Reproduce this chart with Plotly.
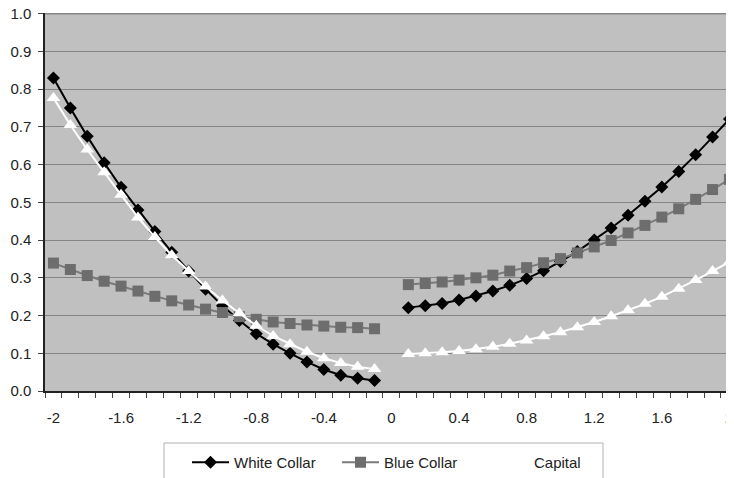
import plotly.graph_objects as go

categories = [-2.0, -1.9, -1.8, -1.7, -1.6, -1.5, -1.4, -1.3, -1.2, -1.1,
              -1.0, -0.9, -0.8, -0.7, -0.6, -0.5, -0.4, -0.3, -0.2, -0.1,
              0.0,
              0.1, 0.2, 0.3, 0.4, 0.5, 0.6, 0.7, 0.8, 0.9, 1.0,
              1.1, 1.2, 1.3, 1.4, 1.5, 1.6, 1.7, 1.8, 1.9, 2.0]

white_collar = [0.830, 0.750, 0.675, 0.605, 0.540, 0.480, 0.423, 0.368, 0.318, 0.270,
                0.226, 0.187, 0.152, 0.124, 0.100, 0.077, 0.057, 0.042, 0.034, 0.028,
                None,
                0.221, 0.226, 0.232, 0.241, 0.252, 0.265, 0.280, 0.298, 0.319, 0.343,
                0.370, 0.400, 0.432, 0.466, 0.503, 0.541, 0.582, 0.626, 0.673, 0.721]

blue_collar = [0.339, 0.322, 0.306, 0.291, 0.278, 0.265, 0.251, 0.239, 0.228, 0.217,
               0.208, 0.197, 0.190, 0.183, 0.179, 0.175, 0.172, 0.169, 0.168, 0.165,
               None,
               0.282, 0.285, 0.289, 0.294, 0.300, 0.307, 0.318, 0.327, 0.340, 0.351,
               0.366, 0.382, 0.399, 0.419, 0.439, 0.461, 0.483, 0.508, 0.534, 0.561]

capital = [0.777, 0.705, 0.640, 0.580, 0.520, 0.460, 0.408, 0.360, 0.318, 0.277,
           0.240, 0.206, 0.173, 0.146, 0.124, 0.104, 0.087, 0.074, 0.064, 0.058,
           None,
           0.098, 0.100, 0.103, 0.106, 0.111, 0.117, 0.125, 0.134, 0.145, 0.156,
           0.169, 0.183, 0.198, 0.214, 0.231, 0.250, 0.271, 0.294, 0.318, 0.342]

x_tick_values = [-2.0, -1.6, -1.2, -0.8, -0.4, 0.0, 0.4, 0.8, 1.2, 1.6, 2.0]
x_tick_labels = ["-2", "-1.6", "-1.2", "-0.8", "-0.4", "0", "0.4", "0.8", "1.2", "1.6", "2"]
y_tick_values = [0.0, 0.1, 0.2, 0.3, 0.4, 0.5, 0.6, 0.7, 0.8, 0.9, 1.0]
y_tick_labels = ["0.0", "0.1", "0.2", "0.3", "0.4", "0.5", "0.6", "0.7", "0.8", "0.9", "1.0"]

FONT = "Liberation Sans, Arial, sans-serif"
TEXT_COLOR = "#222222"
GRID_COLOR = "#858585"

# the page body has an 8px margin, so the figure is shrunk by that offset
OFF = 8
W, H = 734 - OFF, 478 - OFF
ML, MR, MT = 45 - OFF, 0, 13 - OFF
MB = H - (391 - OFF)
PW, PH = W - ML - MR, H - MT - MB


def px_to_paper_x(px):
    return (px - OFF - ML) / PW


def px_to_paper_y(py):
    return (H - MB - (py - OFF)) / PH


fig = go.Figure()
fig.add_trace(go.Scatter(
    x=categories, y=white_collar, name="White Collar", mode="lines+markers",
    line=dict(color="#000000", width=2),
    marker=dict(symbol="diamond", size=10, color="#000000"),
    connectgaps=False))
fig.add_trace(go.Scatter(
    x=categories, y=blue_collar, name="Blue Collar", mode="lines+markers",
    line=dict(color="#7a7a7a", width=2),
    marker=dict(symbol="square", size=11, color="#6d6d6d"),
    connectgaps=False))
fig.add_trace(go.Scatter(
    x=categories, y=capital, name="Capital", mode="lines+markers",
    line=dict(color="#ffffff", width=2),
    marker=dict(symbol="triangle-up", size=12, color="#ffffff"),
    connectgaps=False))

# top border of the plot area (the 1.0 gridline)
fig.add_shape(type="line", xref="paper", yref="y",
              x0=0, x1=1, y0=y_tick_values[-1], y1=y_tick_values[-1],
              line=dict(color=GRID_COLOR, width=1.5), layer="below")

# legend frame
fig.add_shape(type="rect", xref="paper", yref="paper",
              x0=px_to_paper_x(164), x1=px_to_paper_x(603),
              y0=px_to_paper_y(443), y1=px_to_paper_y(495),
              line=dict(color="#b0b0b0", width=1), fillcolor="rgba(0,0,0,0)",
              layer="above")

# last x tick label sits on the right edge of the page
fig.add_annotation(x=x_tick_values[-1], xref="x",
                   y=px_to_paper_y(417), yref="paper",
                   text=x_tick_labels[-1], showarrow=False,
                   xanchor="center", yanchor="middle",
                   font=dict(family=FONT, size=15, color=TEXT_COLOR))

fig.update_layout(
    width=W, height=H,
    margin=dict(l=ML, r=MR, t=MT, b=MB, autoexpand=False),
    paper_bgcolor="#ffffff",
    plot_bgcolor="#c0c0c0",
    font=dict(family=FONT, size=15, color=TEXT_COLOR),
    showlegend=True,
    legend=dict(
        orientation="h",
        x=px_to_paper_x(187), xanchor="left",
        y=px_to_paper_y(446), yanchor="top",
        bgcolor="rgba(0,0,0,0)",
        borderwidth=0,
        font=dict(family=FONT, size=15, color=TEXT_COLOR),
        itemwidth=37,
        entrywidth=98,
    ),
    xaxis=dict(
        range=[-2.05, 2.027],
        tickmode="array", tickvals=x_tick_values[:-1], ticktext=x_tick_labels[:-1],
        ticklabeloverflow="allow",
        showgrid=False, zeroline=False, automargin=False,
        showline=True, linecolor="#222222", linewidth=1.5,
        ticks="outside", ticklen=12, tickcolor="rgba(0,0,0,0)",
        minor=dict(tick0=-2.05, dtick=0.1, ticks="outside", ticklen=5,
                   tickcolor="#444444", showgrid=False),
        fixedrange=True,
    ),
    yaxis=dict(
        range=[0, 1.002],
        tickmode="array", tickvals=y_tick_values, ticktext=y_tick_labels,
        ticklabeloverflow="allow",
        showgrid=True, gridcolor=GRID_COLOR, gridwidth=1,
        zeroline=False, automargin=False,
        showline=True, linecolor="#222222", linewidth=1.5,
        ticks="outside", ticklen=5, tickcolor="#444444",
        ticklabelstandoff=4,
        fixedrange=True,
    ),
)

fig.write_html("out.html")
